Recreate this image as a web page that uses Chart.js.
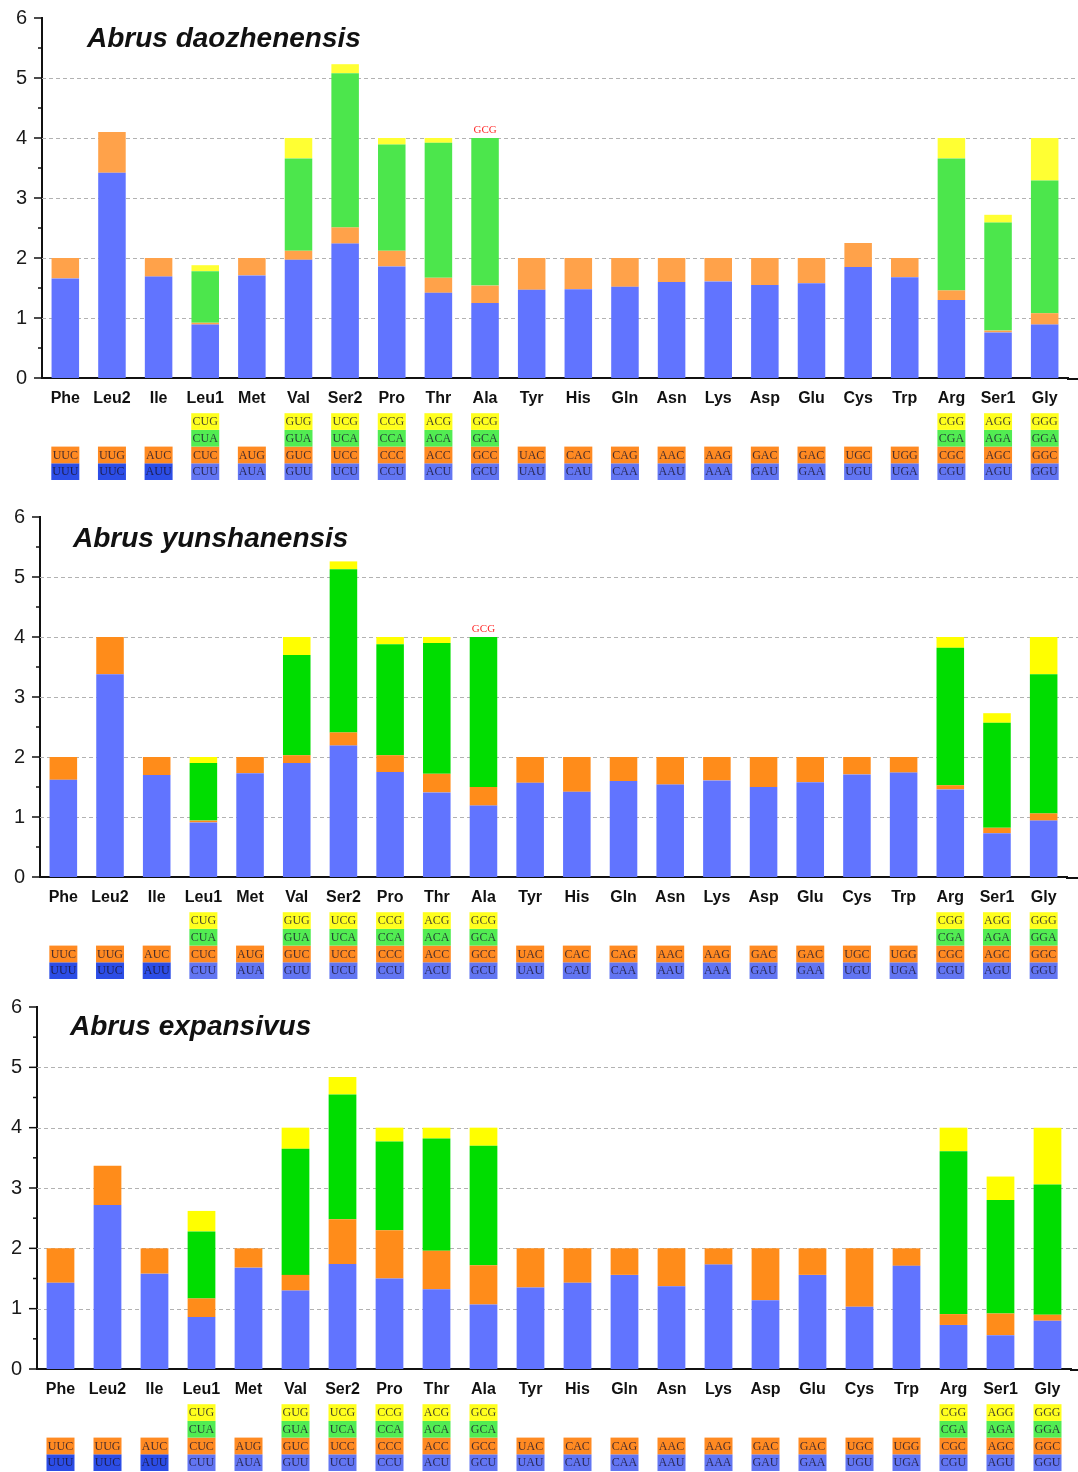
<!DOCTYPE html>
<html>
<head>
<meta charset="utf-8">
<script src="https://cdn.jsdelivr.net/npm/chart.js@4.4.1/dist/chart.umd.min.js"></script>
<style>
  html, body { margin: 0; padding: 0; background: #fff; overflow: hidden; }
  .panel { position: relative; width: 1078px; }
  canvas { display: block; }
</style>
</head>
<body>
<div class="panel" style="height:497px"><canvas id="c1"></canvas></div>
<div class="panel" style="height:493px"><canvas id="c2"></canvas></div>
<div class="panel" style="height:482px"><canvas id="c3"></canvas></div>
<script>
// Amino acids (x categories)
const aminoAcids = ['Phe','Leu2','Ile','Leu1','Met','Val','Ser2','Pro','Thr','Ala','Tyr','His','Gln','Asn','Lys','Asp','Glu','Cys','Trp','Arg','Ser1','Gly'];

// Codon names, from the bottom of each stack upwards
const codon1Labels = ['UUU','UUC','AUU','CUU','AUA','GUU','UCU','CCU','ACU','GCU','UAU','CAU','CAA','AAU','AAA','GAU','GAA','UGU','UGA','CGU','AGU','GGU'];
const codon2Labels = ['UUC','UUG','AUC','CUC','AUG','GUC','UCC','CCC','ACC','GCC','UAC','CAC','CAG','AAC','AAG','GAC','GAC','UGC','UGG','CGC','AGC','GGC'];
const codon3Labels = ['','','','CUA','','GUA','UCA','CCA','ACA','GCA','','','','','','','','','','CGA','AGA','GGA'];
const codon4Labels = ['','','','CUG','','GUG','UCG','CCG','ACG','GCG','','','','','','','','','','CGG','AGG','GGG'];

const speciesNames = ['Abrus daozhenensis', 'Abrus yunshanensis', 'Abrus expansivus'];
const yTicks = [0, 1, 2, 3, 4, 5, 6];

// RSCU values, Abrus daozhenensis
const daoCodon1 = [1.66,3.42,1.69,0.89,1.71,1.97,2.24,1.86,1.42,1.25,1.47,1.48,1.52,1.60,1.61,1.55,1.58,1.85,1.68,1.30,0.76,0.89];
const daoCodon2 = [0.34,0.68,0.31,0.03,0.29,0.15,0.27,0.26,0.25,0.29,0.53,0.52,0.48,0.40,0.39,0.45,0.42,0.40,0.32,0.16,0.03,0.19];
const daoCodon3 = [null,null,null,0.86,null,1.54,2.57,1.77,2.25,2.46,null,null,null,null,null,null,null,null,null,2.20,1.80,2.21];
const daoCodon4 = [null,null,null,0.10,null,0.34,0.15,0.11,0.08,0.00,null,null,null,null,null,null,null,null,null,0.34,0.13,0.71];
const daoAbsent = [['Ala','GCG']];

// RSCU values, Abrus yunshanensis
const yunCodon1 = [1.62,3.38,1.70,0.91,1.73,1.90,2.19,1.75,1.41,1.19,1.57,1.42,1.60,1.54,1.61,1.50,1.58,1.71,1.74,1.46,0.73,0.94];
const yunCodon2 = [0.38,0.62,0.30,0.03,0.27,0.13,0.22,0.28,0.31,0.31,0.43,0.58,0.40,0.46,0.39,0.50,0.42,0.29,0.26,0.07,0.09,0.12];
const yunCodon3 = [null,null,null,0.96,null,1.67,2.72,1.85,2.18,2.50,null,null,null,null,null,null,null,null,null,2.29,1.75,2.32];
const yunCodon4 = [null,null,null,0.10,null,0.30,0.13,0.12,0.10,0.00,null,null,null,null,null,null,null,null,null,0.18,0.16,0.62];
const yunAbsent = [['Ala','GCG']];

// RSCU values, Abrus expansivus
const expCodon1 = [1.43,2.72,1.58,0.86,1.68,1.30,1.74,1.50,1.32,1.07,1.35,1.43,1.56,1.37,1.73,1.14,1.56,1.03,1.71,0.73,0.56,0.80];
const expCodon2 = [0.57,0.65,0.42,0.31,0.32,0.26,0.74,0.80,0.64,0.65,0.65,0.57,0.44,0.63,0.27,0.86,0.44,0.97,0.29,0.18,0.36,0.10];
const expCodon3 = [null,null,null,1.11,null,2.09,2.07,1.47,1.86,1.98,null,null,null,null,null,null,null,null,null,2.70,1.88,2.16];
const expCodon4 = [null,null,null,0.34,null,0.35,0.29,0.23,0.18,0.30,null,null,null,null,null,null,null,null,null,0.39,0.39,0.94];
const expAbsent = [];

Chart.defaults.font.family = '"Liberation Sans", Arial, sans-serif';

const FONT_SANS = '"Liberation Sans", Arial, sans-serif';
const FONT_SERIF = '"Liberation Serif", "Times New Roman", serif';

// Coloured codon tags under each category, title, y labels, ticks and grid
const rscuDecor = {
  id: 'rscuDecor',
  beforeDatasetsDraw(chart, args, o) {
    const { ctx, chartArea, scales: { y } } = chart;
    ctx.save();
    ctx.setLineDash([4, 3]);
    ctx.strokeStyle = '#b2b2b2';
    ctx.lineWidth = 1;
    for (let v = 1; v <= 5; v++) {
      const py = Math.round(y.getPixelForValue(v)) + 0.5;
      ctx.beginPath();
      ctx.moveTo(chartArea.left, py);
      ctx.lineTo(chart.width, py);
      ctx.stroke();
    }
    ctx.restore();
  },
  afterDraw(chart, args, o) {
    const { ctx, chartArea, scales: { x, y } } = chart;
    ctx.save();

    // extend the baseline to the edge
    ctx.strokeStyle = '#111';
    ctx.lineWidth = 2;
    ctx.beginPath();
    ctx.moveTo(chartArea.right - 1, chartArea.bottom + 1);
    ctx.lineTo(chart.width, chartArea.bottom + 1);
    ctx.stroke();

    // outward tick marks, minor every 0.5
    ctx.lineWidth = 1.5;
    for (let v = 0; v <= 6.001; v += 0.5) {
      const py = y.getPixelForValue(v);
      const len = Number.isInteger(v) ? 8 : 4;
      ctx.beginPath();
      ctx.moveTo(chartArea.left - len, py);
      ctx.lineTo(chartArea.left, py);
      ctx.stroke();
    }

    // y tick labels
    ctx.fillStyle = '#1a1a1a';
    ctx.font = '20px ' + FONT_SANS;
    ctx.textAlign = 'right';
    ctx.textBaseline = 'middle';
    yTicks.forEach(v => ctx.fillText(String(v), chartArea.left - 15, y.getPixelForValue(v)));

    // species title
    ctx.fillStyle = '#111';
    ctx.font = 'italic bold 28px ' + FONT_SANS;
    ctx.textAlign = 'left';
    ctx.textBaseline = 'alphabetic';
    ctx.fillText(o.title, o.titleX, o.titleY);

    // codons absent from the genome, marked in red above the stack
    ctx.font = '11px ' + FONT_SERIF;
    ctx.fillStyle = '#ff2a2a';
    ctx.textAlign = 'center';
    o.absent.forEach(([aa, codon]) => {
      const i = aminoAcids.indexOf(aa);
      let total = 0;
      chart.data.datasets.forEach(ds => { total += ds.data[i] || 0; });
      ctx.fillText(codon, x.getPixelForValue(i), y.getPixelForValue(total) - 5);
    });

    // codon tags
    const rows = [codon1Labels, codon2Labels, codon3Labels, codon4Labels];
    const tagColors = ['#6275f2', '#ff8a22', '#52ec52', '#ffff1e'];
    const boxW = 28, boxH = 16.7;
    const base = chartArea.bottom + 102;
    ctx.font = '12px ' + FONT_SERIF;
    ctx.textBaseline = 'middle';
    for (let i = 0; i < aminoAcids.length; i++) {
      const cx = x.getPixelForValue(i);
      for (let r = 0; r < 4; r++) {
        const lab = rows[r][i];
        if (!lab) continue;
        const top = base - (r + 1) * boxH;
        ctx.fillStyle = (r === 0 && i < 3) ? '#2c4de6' : tagColors[r];
        ctx.fillRect(cx - boxW / 2, top, boxW, boxH);
        ctx.fillStyle = 'rgba(25,20,45,0.8)';
        ctx.fillText(lab, cx, top + boxH / 2 + 0.5);
      }
    }
    ctx.restore();
  }
};

function makeChart(id, series, colors, cfg) {
  const names = ['codon1', 'codon2', 'codon3', 'codon4'];
  return new Chart(document.getElementById(id), {
    type: 'bar',
    data: {
      labels: aminoAcids,
      datasets: series.map((d, k) => ({
        label: names[k],
        data: d,
        backgroundColor: colors[k],
        borderWidth: 0,
        barPercentage: 0.59,
        categoryPercentage: 1.0,
        stack: 'rscu'
      }))
    },
    options: {
      responsive: true,
      maintainAspectRatio: false,
      animation: false,
      layout: { padding: { top: cfg.top, left: 0, right: cfg.right, bottom: cfg.bottom } },
      plugins: {
        legend: { display: false },
        tooltip: { enabled: false },
        rscuDecor: { title: cfg.title, titleX: cfg.titleX, titleY: cfg.titleY, absent: cfg.absent }
      },
      scales: {
        x: {
          stacked: true,
          grid: { display: false },
          border: { display: true, color: '#111', width: 2 },
          ticks: { color: '#111', font: { size: 16, weight: 'bold' }, padding: 3, maxRotation: 0, autoSkip: false },
          afterFit: s => { s.height = 32; }
        },
        y: {
          stacked: true,
          min: 0,
          max: 6,
          grid: { display: false },
          border: { display: true, color: '#111', width: 2 },
          afterBuildTicks: s => { s.ticks = yTicks.map(v => ({ value: v })); },
          ticks: { display: false },
          afterFit: s => { s.width = cfg.left; }
        }
      }
    },
    plugins: [rscuDecor]
  });
}

const paleColors = ['#6174ff', '#ffa24a', '#4ce64c', '#ffff33'];
const vividColors = ['#6174ff', '#ff8c1a', '#00dd00', '#ffff00'];

makeChart('c1', [daoCodon1, daoCodon2, daoCodon3, daoCodon4], paleColors,
  { top: 18, bottom: 87, left: 42, right: 10, title: speciesNames[0], titleX: 87, titleY: 47, absent: daoAbsent });
makeChart('c2', [yunCodon1, yunCodon2, yunCodon3, yunCodon4], vividColors,
  { top: 20, bottom: 81, left: 40, right: 11, title: speciesNames[1], titleX: 73, titleY: 50, absent: yunAbsent });
makeChart('c3', [expCodon1, expCodon2, expCodon3, expCodon4], vividColors,
  { top: 17, bottom: 71, left: 37, right: 7, title: speciesNames[2], titleX: 70, titleY: 45, absent: expAbsent });
</script>
</body>
</html>
